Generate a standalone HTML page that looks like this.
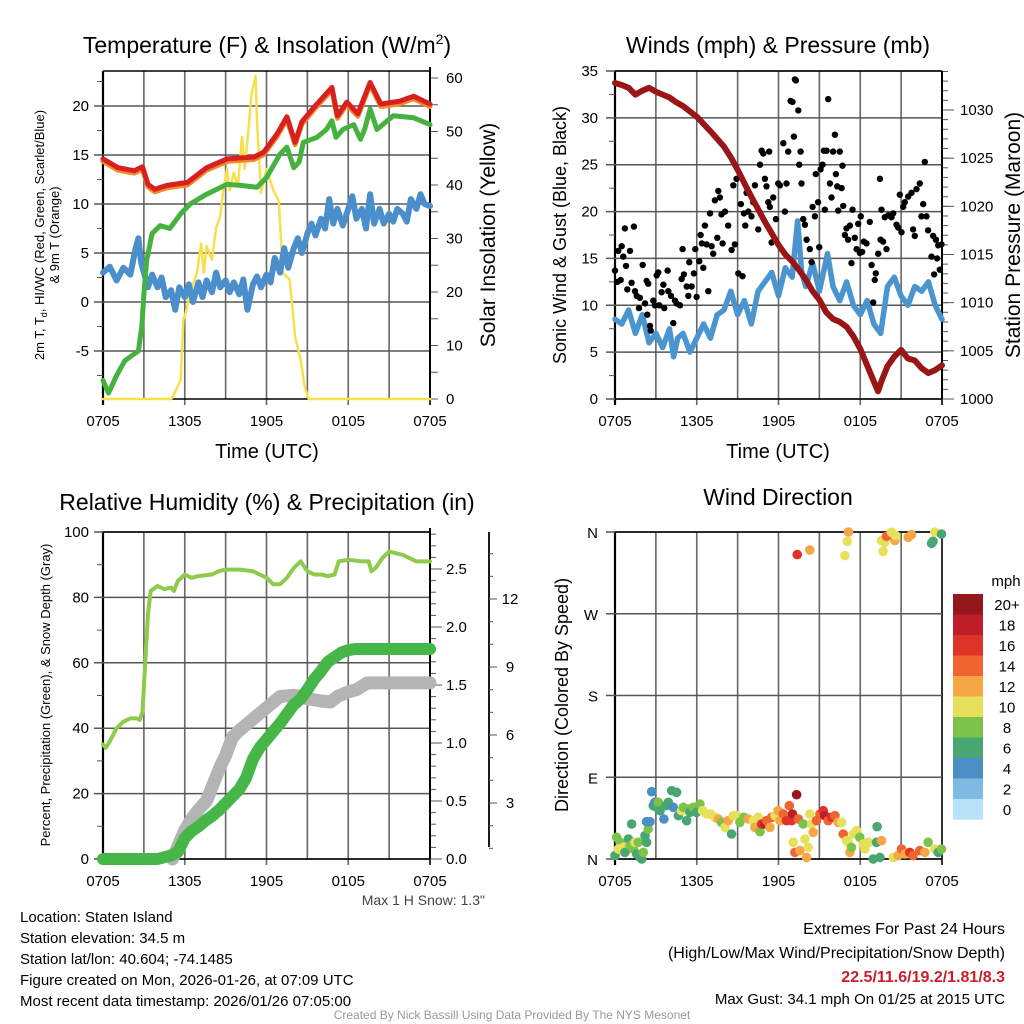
<!DOCTYPE html>
<html><head><meta charset="utf-8">
<style>
html,body{margin:0;padding:0;background:#fff;}
svg{display:block;font-family:"Liberation Sans",Arial,sans-serif;}
</style></head>
<body>
<svg id="chart" width="1024" height="1024" viewBox="0 0 1024 1024" xmlns="http://www.w3.org/2000/svg">
<rect width="1024" height="1024" fill="#fff"/>
<g id="tl"></g>
<g id="tr"></g>
<g id="bl"></g>
<g id="br"></g>

<text x="267" y="53" font-size="23" text-anchor="middle">Temperature (F) &amp; Insolation (W/m<tspan font-size="14" dy="-9">2</tspan><tspan dy="9">)</tspan></text>
<text x="778" y="53" font-size="23" text-anchor="middle">Winds (mph) &amp; Pressure (mb)</text>
<text x="267" y="510" font-size="23" text-anchor="middle">Relative Humidity (%) &amp; Precipitation (in)</text>
<text x="778" y="505" font-size="23" text-anchor="middle">Wind Direction</text>

<text x="267" y="458" font-size="20" text-anchor="middle">Time (UTC)</text>
<text x="778" y="458" font-size="20" text-anchor="middle">Time (UTC)</text>

<text transform="translate(44,235) rotate(-90)" font-size="13" text-anchor="middle">2m T, T<tspan font-size="9" dy="3">d</tspan><tspan dy="-3">, HI/WC (Red, Green, Scarlet/Blue)</tspan></text>
<text transform="translate(59,235) rotate(-90)" font-size="13" text-anchor="middle">&amp; 9m T (Orange)</text>
<text transform="translate(495,235) rotate(-90)" font-size="21" text-anchor="middle">Solar Insolation (Yellow)</text>
<text transform="translate(566,235) rotate(-90)" font-size="18" text-anchor="middle">Sonic Wind &amp; Gust (Blue, Black)</text>
<text transform="translate(1020,235) rotate(-90)" font-size="21" text-anchor="middle">Station Pressure (Maroon)</text>
<text transform="translate(50,695) rotate(-90)" font-size="13" text-anchor="middle">Percent, Precipitation (Green), &amp; Snow Depth (Gray)</text>
<text transform="translate(568,695) rotate(-90)" font-size="18" text-anchor="middle">Direction (Colored By Speed)</text>

<text x="485" y="905" font-size="14" fill="#444" text-anchor="end">Max 1 H Snow: 1.3"</text>

<g font-size="15">
<text x="20" y="922">Location: Staten Island</text>
<text x="20" y="943">Station elevation: 34.5 m</text>
<text x="20" y="964">Station lat/lon: 40.604; -74.1485</text>
<text x="20" y="985">Figure created on Mon, 2026-01-26, at 07:09 UTC</text>
<text x="20" y="1006">Most recent data timestamp: 2026/01/26 07:05:00</text>
</g>
<g font-size="16" text-anchor="end">
<text x="1005" y="934">Extremes For Past 24 Hours</text>
<text x="1005" y="958">(High/Low/Max Wind/Precipitation/Snow Depth)</text>
<text x="1005" y="982" fill="#c8202a" font-weight="bold">22.5/11.6/19.2/1.81/8.3</text>
<text x="1005" y="1004" font-size="15">Max Gust: 34.1 mph On 01/25 at 2015 UTC</text>
</g>
<text x="512" y="1019" font-size="12" fill="#999" text-anchor="middle">Created By Nick Bassill Using Data Provided By The NYS Mesonet</text>
</svg>
<script>
// ---------- data ----------
const xTickLabels = ["0705","1305","1905","0105","0705"];
const tempTime = [0,1.1,2.3,2.9,3.3,3.8,4.7,6.2,7.6,9.1,11.1,11.8,12.8,13.5,14.1,14.6,15.5,16.8,17.2,17.9,18.7,19.6,20.4,21.8,22.8,24];
const tempVal = [14.6,13.7,13.4,13.8,12.0,11.5,11.9,12.2,13.7,14.6,14.8,15.3,17.2,18.9,16.3,18.4,19.9,21.9,19.0,20.4,19.2,22.4,20.2,20.5,21.0,20.2];
const dewTime = [0,0.4,1.0,1.6,2.3,2.6,2.85,3.0,3.2,3.6,4.2,4.9,5.7,6.4,7.6,9.1,10.1,11.3,12.0,13.0,13.5,14.0,14.4,14.7,15.7,16.4,16.8,17.1,17.6,18.4,18.9,19.2,19.6,20.1,21.3,22.8,24];
const dewVal = [-8,-9.3,-7.5,-6,-5.3,-5,-2.5,0.8,4.2,7,7.8,7.5,9,10,11,12,11.9,11.7,12.7,15.1,15.8,13.7,14.3,16.3,16.8,17.6,18.5,16.8,17.6,18.1,16.6,17.6,19.7,17.6,19.0,18.8,18.1];
const chillTime = [0,0.5,1,1.5,2,2.4,2.6,2.8,3,3.3,3.6,4,4.3,4.6,5,5.3,5.6,6,6.3,6.6,7,7.3,7.6,8,8.3,8.6,9,9.3,9.6,10,10.3,10.6,11,11.3,11.6,12,12.3,12.6,13,13.3,13.6,14,14.3,14.6,15,15.3,15.6,16,16.3,16.6,16.9,17.2,17.6,18,18.3,18.6,19,19.3,19.6,19.9,20.3,20.6,21,21.3,21.6,22,22.3,22.6,23,23.3,23.6,24];
const chillVal = [3,3.6,2.2,3.5,2.8,5.5,6.5,4,3,1.5,2.8,1.5,2.5,0.5,1.2,-0.8,1.5,0.5,1.8,0,2,0.5,2.2,1,3,1.5,2.2,1,2,0.8,2.3,-0.8,1.8,2.6,1.5,2.8,2,4.5,3,5.5,3.5,5.5,6.5,5,7,8,6.8,8.5,7.5,10.5,8,9.5,7.8,9.5,10.8,8.5,9.5,7.5,11,8,9.5,8,9,8.2,9.5,9,8.2,10.5,9.5,11,10,9.8];
const solarTime = [0,5.0,5.15,5.7,5.9,6.06,6.4,6.9,7.2,7.4,7.6,8.0,8.3,8.6,8.8,9.1,9.3,9.6,9.9,10.2,10.4,10.7,10.9,11.2,11.3,11.6,12.0,12.5,12.9,13.2,13.7,14.1,14.5,14.8,15.1,24];
const solarVal = [0,0,0.5,3.6,14.8,16,20,23.6,29,23.6,28.6,26,32,34,38.5,43,39,42.3,39.8,49,43,51,57,60.4,52,38.5,43,39,37,23.6,22.3,11.7,7.4,2.4,0,0];

const windTime = [0,0.5,1,1.5,2,2.5,3,3.5,4,4.3,4.6,5,5.5,6,6.5,7,7.5,8,8.5,9,9.5,10,10.5,11,11.5,12,12.5,13,13.4,13.7,14,14.5,15,15.6,16,16.5,17,17.5,18,18.5,19,19.5,20,20.5,21,21.5,22,22.5,23,23.5,24];
const windVal = [8.5,8.0,9.5,7.0,9.0,6.0,7.0,5.5,7.5,4.5,6.5,7.0,5.0,6.5,8.0,6.5,9.0,9.5,11.5,9.0,10.5,8.0,11.5,12.5,13.5,11.0,14.0,13.0,19.0,13.5,12.0,14.5,11.5,15.5,12.0,10.5,12.5,10.0,9.0,10.5,8.0,7.0,12.0,13.0,11.0,10.0,12.0,11.5,12.5,10.0,8.5];
const gustTime = [0,0.17,0.24,0.42,0.49,0.61,0.73,0.81,0.9,1.1,1.22,1.39,1.47,1.59,1.76,1.83,2.03,2.2,2.32,2.37,2.44,2.57,2.62,2.81,2.93,3.06,3.18,3.25,3.42,3.55,3.62,3.86,3.91,4.11,4.28,4.4,4.52,4.77,4.89,4.96,5.06,5.26,5.38,5.45,5.62,5.79,5.89,5.99,6.19,6.28,6.38,6.48,6.6,6.72,6.85,6.97,7.09,7.21,7.33,7.51,7.58,7.7,7.82,7.9,8.07,8.31,8.56,8.68,8.8,8.92,9.05,9.24,9.36,9.46,9.56,9.66,9.78,10.02,10.15,10.27,10.51,10.64,10.76,10.88,11,11.12,11.25,11.32,11.37,11.49,11.61,11.81,11.98,12.1,12.35,12.47,12.59,12.71,12.89,13.03,13.13,13.2,13.28,13.45,13.52,13.62,13.69,13.81,13.94,14.06,14.3,14.43,14.5,14.67,14.74,14.91,14.99,15.09,15.23,15.33,15.4,15.53,15.65,15.77,15.89,16.01,16.14,16.21,16.31,16.38,16.5,16.63,16.7,16.75,16.87,16.99,17.11,17.24,17.36,17.43,17.6,17.73,17.85,17.97,18.04,18.14,18.26,18.46,18.7,18.83,18.95,19.07,19.14,19.32,19.44,19.49,19.56,19.68,19.8,19.93,20.05,20.29,20.42,20.66,20.78,20.9,21.03,21.15,21.27,21.52,21.76,21.88,22,22.13,22.37,22.49,22.62,22.74,22.86,22.98,23.23,23.35,23.42,23.55,23.64,23.72,23.84,23.96];
const gustVal = [13.7,12.5,15.8,12.7,16.3,15.2,18.2,14.2,11.7,15.8,12.4,18.4,11.5,11,9.7,10.8,14.3,10.2,12.6,9,12.3,7.8,7.3,10.5,10,13.2,13.5,10,11.4,12.2,9.7,13.7,11.5,11,8.1,10.5,10.2,10,12.8,16,13.3,12,11,14.6,12,13.4,16,10.9,14.7,17.5,16.6,14,18.5,16.5,11.5,19.8,16.3,15.5,21.2,17.2,22.2,21.5,19.7,16.6,20,18.5,15.9,22.8,16.5,23.5,13.4,20.8,13.1,19.8,18.5,22,20,19.5,21,22.8,18.1,25,26.5,26.2,23.5,22.7,21,26.4,20.5,16.7,21.5,19.2,23,22.8,27.3,20,23,26.4,31.8,31.7,28,34.1,34,30.8,25,26.4,23,19.2,18.6,17,16,14.6,20.5,19.5,24,21,16.2,24.5,25,26.5,20.2,26.5,32,23,21.5,26.4,28.2,24,22.7,20.1,26.4,22.5,24.9,20.6,17.5,18.2,17,18.5,14.5,20.2,17.2,16,18.7,15.6,19.5,15.7,16.8,16.6,18.9,14.3,10.3,12.7,13.4,15.5,23.5,17,20.2,16.8,19.4,16,19.6,19.4,19.8,18.6,18.3,21.8,17.8,20.5,21,21.6,22,18.1,17.4,22.4,23,19.5,20.8,25.3,19.5,18,15.2,17.4,13.3,17,15,16.4,13.8,16.5];
const presTime = [0,0.5,1,1.5,2,2.5,3,3.5,4,4.5,5,6,7,7.5,8,8.5,9,9.5,10,10.5,11,11.5,12,12.5,13,13.5,14,14.5,15,15.5,16,16.5,17,17.5,18,18.5,19,19.3,19.6,20,20.5,21,21.5,22,22.5,23,23.5,24];
const presVal = [1032.8,1032.6,1032.3,1031.6,1032.0,1032.3,1031.9,1031.6,1031.3,1030.8,1030.4,1029.3,1027.8,1027.0,1026.2,1025.1,1023.8,1022.4,1021.0,1019.7,1018.4,1017.2,1016.0,1015.0,1014.3,1013.4,1012.4,1011.2,1010.3,1009.0,1008.3,1008.0,1007.5,1006.5,1005.2,1003.5,1001.8,1000.8,1002.0,1003.4,1004.4,1005.1,1004.2,1004.0,1003.2,1002.7,1003.0,1003.5];

const rhTime = [0,0.2,0.5,1,1.5,2,2.5,2.7,2.9,3.1,3.3,3.5,4,4.5,5,5.2,5.5,6,6.5,7,8,8.5,9,10,11,11.5,12,12.5,13,13.5,14,14.5,15,15.5,16,16.5,17,17.3,18,19,19.5,19.7,20,20.5,21,22,23,24];
const rhVal = [35,34,36,40,42,43,43,42.5,45,60,75,82,83.5,82.5,83,82,85,87,86,86.5,87,88,88.5,88.5,88,87,86,84,84,86,89,91,88,87,87,86.5,87,91,91.5,91,91,88,89,92,94,93,91,91];
const precipTime = [0,4,5,5.5,6,6.5,7,7.5,8,8.5,9,9.5,10,10.5,11,11.5,12,12.5,13,13.5,14,14.5,15,15.5,16,16.5,17,17.5,18,18.5,24];
const precipVal = [0,0,0.03,0.06,0.18,0.24,0.28,0.33,0.37,0.42,0.48,0.54,0.6,0.7,0.86,0.96,1.03,1.1,1.17,1.25,1.33,1.38,1.46,1.55,1.62,1.7,1.74,1.78,1.8,1.81,1.81];
const snowTime = [5.1,5.5,6,6.5,7,7.6,8,8.6,9,9.5,10,10.6,11,12,13,14,14.5,15,16,16.7,17.2,18,18.6,19.4,24];
const snowVal = [0.53,1.1,1.8,2.3,2.7,3.1,3.7,4.6,5.1,5.9,6.2,6.5,6.7,7.2,7.7,7.75,7.7,7.6,7.5,7.45,7.7,7.9,8.0,8.3,8.3];

const dirTime = [0,0.12,0.37,0.24,0.61,0.73,0.98,1.1,1.22,1.34,1.47,1.59,1.71,1.83,1.96,2.08,2.2,2.32,2.44,2.32,2.57,2.69,2.81,2.93,3.06,3.18,3.3,3.59,3.74,3.91,4.16,4.28,4.52,4.65,4.89,5.01,5.26,5.38,5.5,5.75,5.99,6.23,6.43,6.72,7.02,7.33,7.58,7.82,8.07,8.31,8.56,8.68,8.92,9.17,9.46,9.78,10.15,10.27,10.51,10.64,10.76,11,11.12,11.37,11.49,11.74,11.98,12.1,12.35,12.59,12.79,12.96,13.03,13.08,13.2,13.33,13.45,13.57,13.81,13.94,14.06,14.18,14.3,14.43,14.55,14.79,15.04,15.28,15.4,15.65,15.89,16.14,16.38,16.63,16.75,16.99,17.11,17.24,17.36,17.48,17.73,17.97,18.22,18.34,18.58,18.95,19.19,19.24,19.44,19.56,20.42,20.78,21.03,21.27,21.64,21.88,22.37,22.74,22.98,23.47,23.72,23.96,13.37,14.3,16.87,17.04,17.14,19.56,19.68,19.8,19.93,20.17,20.29,20.54,20.61,21.52,21.76,23.23,23.35,23.47,23.96];
const dirDeg = [3.7,23.9,18.4,11,12.8,7.3,22,14.7,38.5,11,18.4,5.5,18.4,1.8,0,7.3,25.7,18.4,33,41.1,41.1,74.1,58.7,62.4,56.9,62.4,53.2,44,58.7,62.4,75.2,56.9,73.4,47.7,53.2,56.9,42.2,55.1,51.4,56.9,51.4,60.6,53.2,49.5,49.5,45.9,44,40.4,34.9,42.2,27.5,47.7,47.7,40.4,45.9,44,42.2,34.9,45.9,30.1,38.5,38.5,42.2,34.9,45.9,47.7,53.2,42.2,49.5,42.2,58.7,42.2,49.5,18.4,7.3,70.8,44,9.2,38.5,22,1.8,12.8,49.5,38.5,29.4,42.2,49.5,53.2,47.7,42.2,45.9,47.7,40.4,40.4,27.5,20.2,18.4,7.3,12.8,27.5,31.2,23.9,16.5,11,18.4,0,18.4,35.6,1.8,20.2,1.8,3.7,11,5.5,7.3,3.7,9.2,7.3,18.4,11,7.3,11,335.1,340.2,334,349.8,360,350.5,338.7,348.7,355.3,356.7,359.7,350.5,356,354.2,357.1,347.5,349.8,360,357.8];
const dirSpeed = [6,8,8,10,10,6,6,8,6,8,10,6,8,6,6,8,6,6,8,4,4,4,6,4,6,8,6,4,6,6,6,4,6,6,10,8,6,8,6,8,6,8,10,10,10,10,12,8,10,12,6,10,10,8,8,12,10,12,10,8,16,18,14,12,14,10,12,12,14,16,14,16,18,10,14,20,14,12,8,10,12,10,10,10,12,14,14,16,18,14,16,14,12,10,14,10,10,12,8,10,10,8,10,10,10,6,6,6,6,12,10,12,14,12,16,14,14,12,8,10,6,8,16,12,10,10,12,10,10,10,14,14,10,12,10,12,12,6,6,10,6];
const legendLabels = ["20+","18","16","14","12","10","8","6","4","2","0"];
const speedColors = ["#b8e3f7","#7fbae3","#4a8fc6","#48a672","#7dc24a","#e7e05a","#f7a646","#ef6430","#de3428","#bf1e28","#96171b"];

// ---------- helpers ----------
const NS="http://www.w3.org/2000/svg";
function mk(parent,tag,attrs){const e=document.createElementNS(NS,tag);for(const k in attrs)e.setAttribute(k,attrs[k]);parent.appendChild(e);return e;}
function lin(d0,d1,r0,r1){return v=>r0+(v-d0)*(r1-r0)/(d1-d0);}
function pathD(xs,ys,fx,fy){return xs.map((t,i)=>(i?"L":"M")+fx(t).toFixed(1)+","+fy(ys[i]).toFixed(1)).join("");}

function frame(g,x0,x1,y0,y1,hLines,fy,xt){
  for(let h=0;h<=24;h+=3){const x=xt(h);const l=mk(g,"line",{x1:x,x2:x,y1:y0,y2:y1+(h%6===0?6:0),stroke:(h===0||h===24)?"#000":"#666","stroke-width":h===0?2.2:1.6});
    
    }
  hLines.forEach(v=>{const y=fy(v);const l=mk(g,"line",{x1:x0-9,x2:x1,y1:y,y2:y,stroke:"#555","stroke-width":1.5});
    
    });
  const t=mk(g,"line",{x1:x0,x2:x1,y1:y0,y2:y0,stroke:"#000","stroke-width":1.5});
  
  
  const b=mk(g,"line",{x1:x0,x2:x1,y1:y1,y2:y1,stroke:"#000","stroke-width":1.5});
  
  
  xTickLabels.forEach((s,i)=>{const tx=mk(g,"text",{x:xt(i*6),y:y1+27,"font-size":15,"text-anchor":"middle"});tx.textContent=s;
    
    });
}
function yLabels(g,vals,fy,x,anchor,fmt,size){vals.forEach(v=>{const t=mk(g,"text",{x:x,y:fy(v)+5,"font-size":size||15,"text-anchor":anchor});t.textContent=fmt?fmt(v):String(v);
  
  });}
function minorTicks(g,x,vals,fy,len){vals.forEach(v=>{const y=fy(v);const l=mk(g,"line",{x1:x,x2:x+len,y1:y,y2:y,stroke:"#555","stroke-width":1});
  
  });}
function rng(a,b,s){const r=[];for(let v=a;v<=b+1e-9;v+=s)r.push(+v.toFixed(3));return r;}
function series(g,name,d,color,w,op){const p=mk(g,"path",{d:d,fill:"none",stroke:color,"stroke-width":w,"stroke-linejoin":"round","stroke-linecap":"round",opacity:op||1});
  
  return p;}

// ---------- Temperature panel ----------
(function(){
  const g=document.getElementById("tl");
  const X0=103,X1=430,Y0=71,Y1=399;
  const fx=lin(0,24,X0,X1), fy=lin(0,20,302,106), fs=lin(0,60,Y1,78);
  frame(g,X0,X1,Y0,Y1,[20,15,10,5,0,-5],fy,fx);
  minorTicks(g,X0-6,rng(-7.5,22.5,5),fy,6);
  minorTicks(g,X1,rng(0,60,5),fs,8);
  const ax=mk(g,"line",{x1:X1,x2:X1,y1:Y0-4,y2:Y1,stroke:"#000","stroke-width":2});
  
  
  yLabels(g,[20,15,10,5,0,-5],fy,89,"end");
  yLabels(g,[60,50,40,30,20,10,0],fs,446,"start");
  series(g,"solar-insolation-line",pathD(solarTime,solarVal,fx,fs),"#f7e04a",2.5);
  series(g,"windchill-line",pathD(chillTime,chillVal,fx,fy),"#4a8fcb",6);
  series(g,"dewpoint-line",pathD(dewTime,dewVal,fx,fy),"#45b23f",5);
  series(g,"temp-9m-line",pathD(tempTime,tempVal.map(v=>v-0.25),fx,fy),"#f28a2a",5);
  series(g,"temp-2m-line",pathD(tempTime,tempVal,fx,fy),"#d8201f",5);
})();

// ---------- Winds panel ----------
(function(){
  const g=document.getElementById("tr");
  const X0=615,X1=942,Y0=71,Y1=399;
  const fx=lin(0,24,X0,X1), fy=lin(0,35,Y1,Y0), fp=lin(1000,1030,Y1,110);
  frame(g,X0,X1,Y0,Y1,[35,30,25,20,15,10,5,0],fy,fx);
  minorTicks(g,X0-6,rng(2.5,32.5,5),fy,6);
  minorTicks(g,X1,rng(1000,1034,1),fp,6);
  minorTicks(g,X1,rng(1000,1030,5),fp,12);
  const ax=mk(g,"line",{x1:X1,x2:X1,y1:Y0,y2:Y1,stroke:"#000","stroke-width":2});
  
  
  yLabels(g,[35,30,25,20,15,10,5,0],fy,598,"end");
  yLabels(g,[1030,1025,1020,1015,1010,1005,1000],fp,960,"start");
  series(g,"sustained-wind-line",pathD(windTime,windVal,fx,fy),"#4a94d0",5.5);
  gustTime.forEach((t,i)=>{const c=mk(g,"circle",{cx:fx(t).toFixed(1),cy:fy(gustVal[i]).toFixed(1),r:3.2,fill:"#000"});
    
    });
  series(g,"pressure-line",pathD(presTime,presVal,fx,fp),"#9a1616",6);
})();

// ---------- Humidity panel ----------
(function(){
  const g=document.getElementById("bl");
  const X0=103,X1=430,Y0=532,Y1=859;
  const fx=lin(0,24,X0,X1), fy=lin(0,100,Y1,Y0), fpr=lin(0,2.5,Y1,569), fsn=lin(3,12,803,599);
  frame(g,X0,X1,Y0,Y1,[100,80,60,40,20,0],fy,fx);
  minorTicks(g,X0-6,rng(10,90,20),fy,6);
  minorTicks(g,X1,rng(0,2.8,0.1),fpr,6);
  minorTicks(g,X1,rng(0,2.5,0.5),fpr,12);
  const ax=mk(g,"line",{x1:X1,x2:X1,y1:Y0-4,y2:Y1,stroke:"#000","stroke-width":2});
  
  
  const ax2=mk(g,"line",{x1:489,x2:489,y1:Y0,y2:Y1-12,stroke:"#000","stroke-width":1.8});
  
  
  minorTicks(g,489,rng(1,14,1),fsn,4);
  minorTicks(g,489,rng(3,12,3),fsn,8);
  yLabels(g,[100,80,60,40,20,0],fy,89,"end");
  yLabels(g,[2.5,2.0,1.5,1.0,0.5,0.0],fpr,446,"start",v=>v.toFixed(1));
  yLabels(g,[3,6,9,12],fsn,510,"middle");
  series(g,"snow-depth-line",pathD(snowTime,snowVal,fx,fsn),"#b4b4b4",13);
  series(g,"precipitation-line",pathD(precipTime,precipVal,fx,fpr),"#46b648",12);
  series(g,"relative-humidity-line",pathD(rhTime,rhVal,fx,fy),"#8ecb4c",4);
})();

// ---------- Wind direction panel ----------
(function(){
  const g=document.getElementById("br");
  const X0=615,X1=942,Y0=532,Y1=859;
  const fx=lin(0,24,X0,X1), fy=lin(0,360,Y1,Y0);
  frame(g,X0,X1,Y0,Y1,[360,270,180,90,0],fy,fx);
  [[360,"N"],[270,"W"],[180,"S"],[90,"E"],[0,"N"]].forEach(a=>{const t=mk(g,"text",{x:598,y:fy(a[0])+6,"font-size":15,"text-anchor":"end"});t.textContent=a[1];
    
    });
  const colorFor=s=>speedColors[Math.max(0,Math.min(10,Math.floor(s/2)))];
  dirTime.forEach((t,i)=>{const c=mk(g,"circle",{cx:fx(t).toFixed(1),cy:fy(dirDeg[i]).toFixed(1),r:4.8,fill:colorFor(dirSpeed[i])});
    
    });
  const u=mk(g,"text",{x:1006,y:586,"font-size":15,"text-anchor":"middle"});u.textContent="mph";
  
  
  legendLabels.forEach((lab,i)=>{const y=594+i*20.5;
    const r=mk(g,"rect",{x:953,y:y,width:30,height:20.8,fill:speedColors[10-i]});
    
    
    const t=mk(g,"text",{x:1007,y:y+16,"font-size":15,"text-anchor":"middle"});t.textContent=lab;
    
    });
})();
</script>
</body></html>
